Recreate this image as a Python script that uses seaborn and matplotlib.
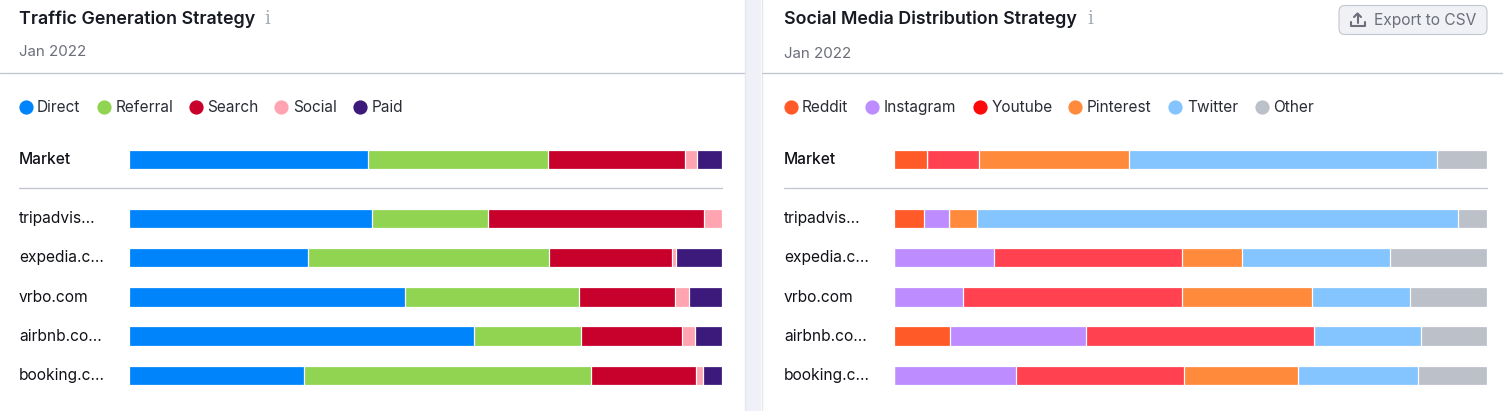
import numpy as np
import pandas as pd
import matplotlib.pyplot as plt
import seaborn as sns
from matplotlib.patches import FancyBboxPatch, Rectangle

W, H = 1503, 411

sites = ["tripadvis...", "expedia.c...", "vrbo.com", "airbnb.co...", "booking.c..."]

# share of traffic, first value of each list is the Market row
direct = [40.3, 41.0, 30.2, 46.6, 58.2, 29.5]
referral = [30.3, 19.6, 40.7, 29.3, 18.1, 48.4]
search = [23.1, 36.4, 20.7, 16.2, 17.0, 17.7]
social = [2.1, 3.0, 0.7, 2.4, 2.1, 1.2]
paid = [4.2, 0.0, 7.7, 5.5, 4.6, 3.2]

reddit = [5.6, 5.1, 0.0, 0.0, 9.4, 0.0]
instagram = [0.0, 4.1, 16.8, 11.7, 23.0, 20.5]
youtube = [8.7, 0.0, 31.8, 36.8, 38.4, 28.4]
pinterest = [25.4, 4.8, 10.1, 22.0, 0.0, 19.2]
twitter = [51.9, 81.1, 24.9, 16.5, 18.1, 20.2]
other = [8.4, 4.9, 16.4, 13.0, 11.1, 11.7]

traffic_names = ["Direct", "Referral", "Search", "Social", "Paid"]
traffic_colors = ["#0084fb", "#90d452", "#c8002c", "#ffa4b0", "#3b1a7c"]
social_names = ["Reddit", "Instagram", "Youtube", "Pinterest", "Twitter", "Other"]
social_colors = ["#ff5a27", "#bd8cff", "#ff4150", "#ff8a3c", "#84c4ff", "#bcc0c9"]
social_legend = ["#ff5a27", "#bd8cff", "#fa0a0a", "#ff8a3c", "#84c4ff", "#bcc0c9"]

traffic = pd.DataFrame(dict(zip(traffic_names, [direct, referral, search, social, paid])))
media = pd.DataFrame(dict(zip(social_names, [reddit, instagram, youtube, pinterest, twitter, other])))

sns.set_theme(style="white")
plt.rcParams["font.family"] = ["Inter", "DejaVu Sans"]

fig = plt.figure(figsize=(W / 100, H / 100), dpi=100, facecolor="white")


def px_axes(x0, y0, x1, y1, **kw):
    return fig.add_axes([x0 / W, 1 - y1 / H, (x1 - x0) / W, (y1 - y0) / H], **kw)


# page layer in pixel coordinates
page = px_axes(0, 0, W, H)
page.set_xlim(0, W)
page.set_ylim(H, 0)
page.axis("off")
page.add_patch(Rectangle((745, 0), 16, H, fc="#f0f1f8", ec="none"))
page.plot([761.5, 761.5], [0, H], color="#e6e7ee", lw=1)
page.plot([744.5, 744.5], [0, H], color="#e6e7ee", lw=1)


def stacked(ax, df, colors):
    # cumulative bars drawn longest first so each one shows only its own segment
    labels = [str(i) for i in range(len(df))]
    cum = df.cumsum(axis=1)
    for name, color in reversed(list(zip(df.columns, colors))):
        sns.barplot(x=cum[name].values, y=labels, color=color, width=0.5, saturation=1,
                    edgecolor="white", linewidth=0.9, ax=ax, orient="h")
    ax.set_xlim(0, cum.iloc[:, -1].max())
    ax.axis("off")


def panel(x_text, x_bar0, x_bar1, title, info_x, date_y, df, colors, legend_colors, dots, labels_x):
    page.text(x_text, 19.5, title, fontsize=12.85, fontweight="semibold", color="#171a22", va="center")
    page.text(info_x, 19, "i", fontsize=13, family="DejaVu Serif", color="#a4abb5", va="center", ha="center")
    page.text(x_text, date_y, "Jan 2022", fontsize=10.9, color="#6c6e79", va="center")
    for name, c, dx, tx in zip(df.columns, legend_colors, dots, labels_x):
        page.scatter([dx], [107], s=105, color=c, linewidths=0)
        page.text(tx, 107, name, fontsize=11.1, color="#2a2d36", va="center")
    page.plot([x_text, x_bar1], [188.5, 188.5], color="#c4c7d2", lw=1)
    page.text(x_text, 159, "Market", fontsize=11.2, fontweight="medium", color="#101218", va="center")
    for i, s in enumerate(sites):
        page.text(x_text, 218.5 + i * 39.3, s, fontsize=11.2, color="#101218", va="center")
    market_ax = px_axes(x_bar0, 139.7, x_bar1, 179)
    market_ax.patch.set_alpha(0)
    stacked(market_ax, df.iloc[[0]], colors)
    sites_ax = px_axes(x_bar0, 198.7, x_bar1, 395.2)
    sites_ax.patch.set_alpha(0)
    stacked(sites_ax, df.iloc[1:].reset_index(drop=True), colors)


panel(19, 129, 722, "Traffic Generation Strategy", 267, 51.5, traffic, traffic_colors, traffic_colors,
      [25.5, 104, 196, 281, 360], [37, 115.5, 207.5, 293, 372])
panel(784, 894, 1487, "Social Media Distribution Strategy", 1090, 54.5, media, social_colors, social_legend,
      [790.5, 872, 980, 1075, 1175, 1262], [802, 884, 992, 1087, 1187, 1273])

page.plot([0, 744], [73.5, 73.5], color="#c4c7d2", lw=1)
page.plot([762, W], [73.5, 73.5], color="#c4c7d2", lw=1)

# export button
page.add_patch(FancyBboxPatch((1339, 5.5), 148, 29, boxstyle="round,pad=0,rounding_size=6",
                              fc="#f0f1f5", ec="#c4c7d2", lw=0.8))
page.plot([1350.5, 1350.5, 1364.5, 1364.5], [22, 26.5, 26.5, 22], color="#6c6e79", lw=1.5)
page.plot([1357.5, 1357.5], [23, 14], color="#6c6e79", lw=1.5)
page.plot([1354, 1357.5, 1361], [17, 13.5, 17], color="#6c6e79", lw=1.5)
page.text(1374.5, 20.5, "Export to CSV", fontsize=11.2, color="#6c6e79", va="center")

fig.savefig("out.png", dpi=100)
